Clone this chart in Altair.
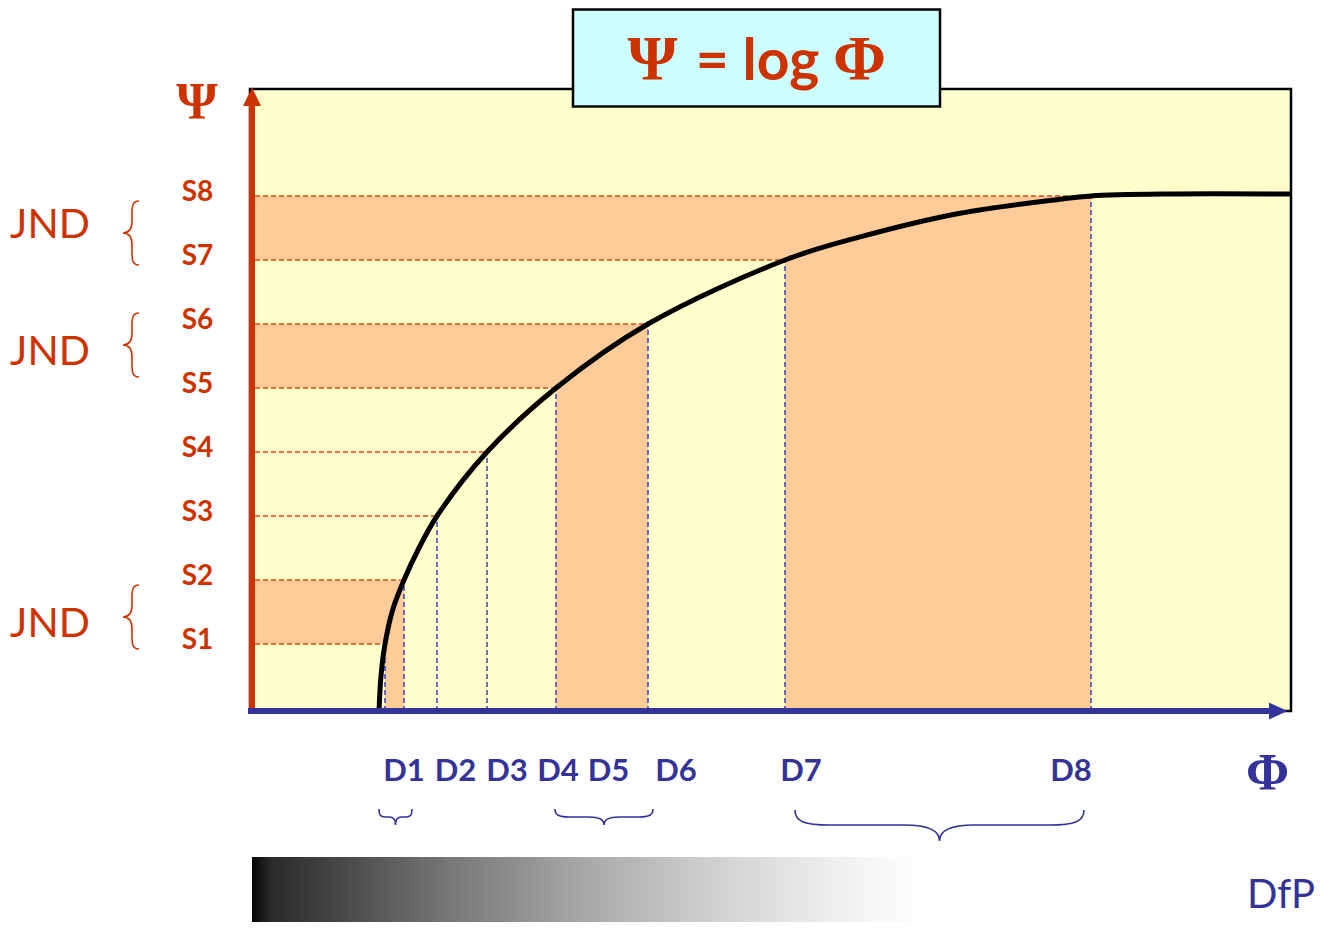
import altair as alt
import pandas as pd

# ---------------- data values ----------------
S_NAMES = ["S1", "S2", "S3", "S4", "S5", "S6", "S7", "S8"]
S_LEVELS = [1, 2, 3, 4, 5, 6, 7, 8]
D_NAMES = ["D1", "D2", "D3", "D4", "D5", "D6", "D7", "D8"]
D_VALUES = [13.5, 15.4, 18.7, 23.7, 30.6, 39.8, 53.5, 84.1]

# Psi = log Phi curve
CURVE_PHI = [12.9, 13.1, 13.5, 14.3, 15.4, 16.9, 18.7, 23.7, 30.6, 39.8,
             53.5, 61.0, 71.0, 81.0, 84.1, 91.5, 104.0]
CURVE_PSI = [-0.05, 0.5, 1.0, 1.55, 2.0, 2.5, 3.0, 4.0, 5.0, 6.0,
             7.0, 7.36, 7.73, 7.95, 8.0, 8.03, 8.03]

BAND_PAIRS = [(1, 2), (5, 6), (7, 8)]     # shaded bands S_i..S_j  /  D_i..D_j

TITLE_PARTS = ["Ψ", "= log", "Φ"]
JND_LABEL = "JND"
DFP_LABEL = "DfP"

# ---------------- layout ----------------
W, H = 1306, 914
OFF = 8


def phi(px):
    return (px - 250) / 10.0


def psi(py):
    return (708 - py) / 64.0


X_MIN, X_MAX = phi(OFF), phi(OFF + W)
Y_MAX, Y_MIN = psi(OFF), psi(OFF + H)
XS = alt.Scale(domain=[X_MIN, X_MAX], nice=False, zero=False)
YS = alt.Scale(domain=[Y_MIN, Y_MAX], nice=False, zero=False)

RED = "#CC3300"
BLUE = "#333399"
ORANGE = "#FFCC99"
YELLOW = "#FFFFCC"


def X(f):
    return alt.X(f, type="quantitative", scale=XS, axis=None)


def Y(f):
    return alt.Y(f, type="quantitative", scale=YS, axis=None)


def brace_path(L, a, t, r, orient):
    h = L / 2.0
    segs = [("M", [(-h, -a)]),
            ("C", [(-h, -a * 0.25), (-h + r * 0.25, 0), (-h + r, 0)]),
            ("L", [(-r, 0)]),
            ("C", [(-r * 0.3, 0), (0, t * 0.35), (0, t)]),
            ("C", [(0, t * 0.35), (r * 0.3, 0), (r, 0)]),
            ("L", [(h - r, 0)]),
            ("C", [(h - r * 0.25, 0), (h, -a * 0.25), (h, -a)])]

    def m(u, v):
        return (u, v) if orient == "down" else (-v, u)

    out = ""
    for cmd, pts in segs:
        out += cmd + " ".join("%.2f,%.2f" % m(*p) for p in pts) + " "
    return out.strip()


curve = pd.DataFrame({"phi": CURVE_PHI, "psi": CURVE_PSI})

# background plot box
bg = alt.Chart(pd.DataFrame({"x": [phi(250)], "x2": [phi(1291)],
                             "y": [psi(711)], "y2": [psi(89)]})).mark_rect(
    fill=YELLOW, stroke="black", strokeWidth=2.5
).encode(x=X("x"), x2=alt.X2("x2"), y=Y("y"), y2=alt.Y2("y2"))

# shaded bands: Psi band [S_i, S_j] left of D_j, and Phi band [D_i, D_j] below S_j
rows = []
for i, j in BAND_PAIRS:
    rows.append({"x": phi(250), "x2": D_VALUES[j - 1],
                 "y": S_LEVELS[i - 1], "y2": S_LEVELS[j - 1]})
    rows.append({"x": D_VALUES[i - 1], "x2": D_VALUES[j - 1],
                 "y": psi(711), "y2": S_LEVELS[j - 1]})
bands = alt.Chart(pd.DataFrame(rows)).mark_rect(color=ORANGE, opacity=1, strokeWidth=0).encode(
    x=X("x"), x2=alt.X2("x2"), y=Y("y"), y2=alt.Y2("y2"))

levels = pd.DataFrame({"phi": D_VALUES, "psi": S_LEVELS,
                       "x0": [phi(255)] * 8, "y0": [psi(711)] * 8})
hdash = alt.Chart(levels).mark_rule(color="#D2491C", strokeWidth=1.4, strokeDash=[5, 3]).encode(
    x=X("x0"), x2=alt.X2("phi"), y=Y("psi"))
vdash = alt.Chart(levels).mark_rule(color="#3333BB", strokeWidth=1.4, strokeDash=[5, 3]).encode(
    x=X("phi"), y=Y("y0"), y2=alt.Y2("psi"))

line = alt.Chart(curve).mark_line(color="black", strokeWidth=5, interpolate="catmull-rom",
                                  strokeCap="butt").encode(x=X("phi"), y=Y("psi"), order="phi:Q")

# axes
yaxis = alt.Chart(pd.DataFrame({"x": [phi(252)], "y": [psi(711)], "y2": [psi(104)]})).mark_rule(
    color=RED, strokeWidth=6).encode(x=X("x"), y=Y("y"), y2=alt.Y2("y2"))
yarrow = alt.Chart(pd.DataFrame({"x": [phi(252)], "y": [psi(97)]})).mark_point(
    shape="M0,-9.5 L9,9 L-9,9 Z", size=4, filled=True, opacity=1, color=RED, strokeWidth=0
).encode(x=X("x"), y=Y("y"))
xaxis = alt.Chart(pd.DataFrame({"x": [phi(248)], "x2": [phi(1272)], "y": [psi(711)]})).mark_rule(
    color=BLUE, strokeWidth=6).encode(x=X("x"), x2=alt.X2("x2"), y=Y("y"))
xarrow = alt.Chart(pd.DataFrame({"x": [phi(1278)], "y": [psi(711)]})).mark_point(
    shape="M9.5,0 L-9,-8.5 L-9,8.5 Z", size=4, filled=True, opacity=1, color=BLUE, strokeWidth=0
).encode(x=X("x"), y=Y("y"))

# title box
tbox = alt.Chart(pd.DataFrame({"x": [phi(573)], "x2": [phi(940)],
                               "y": [psi(9.5)], "y2": [psi(106.5)]})).mark_rect(
    fill="#CCFFFF", stroke="black", strokeWidth=2.5
).encode(x=X("x"), x2=alt.X2("x2"), y=Y("y"), y2=alt.Y2("y2"))
t_psi = alt.Chart(pd.DataFrame({"x": [phi(652.5)], "y": [psi(80)], "t": [TITLE_PARTS[0]]})).mark_text(
    font="Liberation Serif", fontWeight="bold", fontSize=64, color=RED, baseline="alphabetic"
).encode(x=X("x"), y=Y("y"), text="t:N")
t_log = alt.Chart(pd.DataFrame({"x": [phi(757.5)], "y": [psi(80)], "t": [TITLE_PARTS[1]]})).mark_text(
    font="Lato", fontWeight="bold", fontSize=57, color=RED, baseline="alphabetic"
).encode(x=X("x"), y=Y("y"), text="t:N")
t_phi = alt.Chart(pd.DataFrame({"x": [phi(859.5)], "y": [psi(80)], "t": [TITLE_PARTS[2]]})).mark_text(
    font="Liberation Serif", fontWeight="bold", fontSize=64, color=RED, baseline="alphabetic"
).encode(x=X("x"), y=Y("y"), text="t:N")

# axis symbols
ax_psi = alt.Chart(pd.DataFrame({"x": [phi(197)], "y": [psi(119)], "t": ["Ψ"]})).mark_text(
    font="Liberation Serif", fontWeight="bold", fontSize=53, color=RED, baseline="alphabetic"
).encode(x=X("x"), y=Y("y"), text="t:N")
ax_phi = alt.Chart(pd.DataFrame({"x": [phi(1267.5)], "y": [psi(790)], "t": ["Φ"]})).mark_text(
    font="Liberation Serif", fontWeight="bold", fontSize=52, color=BLUE, baseline="alphabetic"
).encode(x=X("x"), y=Y("y"), text="t:N")

# S labels
s_lab = alt.Chart(pd.DataFrame({"x": [phi(197.5)] * 8, "y": S_LEVELS, "t": S_NAMES})).mark_text(
    font="Lato", fontWeight="bold", fontSize=28, color=RED, baseline="middle", dy=-3
).encode(x=X("x"), y=Y("y"), text="t:N")

# D labels (typeset in a row under the axis)
D_LABEL_PX = [404, 455.5, 507, 558, 608.5, 676, 801, 1071]
d_lab = alt.Chart(pd.DataFrame({"x": [phi(v) for v in D_LABEL_PX], "y": [psi(772)] * 8,
                                "t": D_NAMES})).mark_text(
    font="Lato", fontWeight="bold", fontSize=31, color=BLUE, baseline="middle"
).encode(x=X("x"), y=Y("y"), text="t:N")

# JND labels
JND_Y_PX = [226, 353, 625]
jnd = alt.Chart(pd.DataFrame({"x": [phi(50)] * 3, "y": [psi(v) for v in JND_Y_PX],
                              "t": [JND_LABEL] * 3})).mark_text(
    font="Lato", fontSize=41, color=RED, baseline="middle"
).encode(x=X("x"), y=Y("y"), text="t:N")

# braces
vb = brace_path(64, 7, 9, 12, "left")
braces_v = alt.Chart(pd.DataFrame({"x": [phi(132)] * 3, "y": [psi(233), psi(345), psi(617)],
                                   "s": [vb] * 3})).mark_point(
    size=4, filled=False, opacity=1, color=RED, strokeWidth=1.6
).encode(x=X("x"), y=Y("y"), shape=alt.Shape("s:N", scale=None))
braces_h = alt.Chart(pd.DataFrame({
    "x": [phi(395.5), phi(604), phi(939.5)],
    "y": [psi(817), psi(817), psi(825)],
    "s": [brace_path(33, 8, 8, 6, "down"), brace_path(98, 8, 8, 15, "down"),
          brace_path(289, 15, 16, 35, "down")]})).mark_point(
    size=4, filled=False, opacity=1, color=BLUE, strokeWidth=1.6
).encode(x=X("x"), y=Y("y"), shape=alt.Shape("s:N", scale=None))

# gradient bar
grad = alt.LinearGradient(
    gradient="linear", x1=0, x2=1, y1=0, y2=0,
    stops=[alt.GradientStop(color="#000000", offset=0),
           alt.GradientStop(color="#151515", offset=0.012),
           alt.GradientStop(color="#2c2c2c", offset=0.03),
           alt.GradientStop(color="#3a3a3a", offset=0.084),
           alt.GradientStop(color="#777777", offset=0.29),
           alt.GradientStop(color="#a8a8a8", offset=0.49),
           alt.GradientStop(color="#d4d4d4", offset=0.70),
           alt.GradientStop(color="#f5f5f5", offset=0.90),
           alt.GradientStop(color="#ffffff", offset=1.0)])
gbar = alt.Chart(pd.DataFrame({"x": [phi(252)], "x2": [phi(930)], "y": [psi(857)], "y2": [Y_MIN]})).mark_rect(
    fill=grad, strokeWidth=0
).encode(x=X("x"), x2=alt.X2("x2"), y=Y("y"), y2=alt.Y2("y2"))

dfp = alt.Chart(pd.DataFrame({"x": [phi(1281)], "y": [psi(896)], "t": [DFP_LABEL]})).mark_text(
    font="Lato", fontSize=40, color=BLUE, baseline="middle"
).encode(x=X("x"), y=Y("y"), text="t:N")

chart = alt.layer(
    bg, bands, hdash, vdash, line, yaxis, yarrow, xaxis, xarrow,
    tbox, t_psi, t_log, t_phi, ax_psi, ax_phi, s_lab, d_lab, jnd,
    braces_v, braces_h, gbar, dfp
).properties(
    width=W, height=H, padding=0,
    autosize=alt.AutoSizeParams(type="none"),
    background="white"
).configure_view(stroke=None)

chart.save("out.html", embed_options={"renderer": "svg", "actions": False})
